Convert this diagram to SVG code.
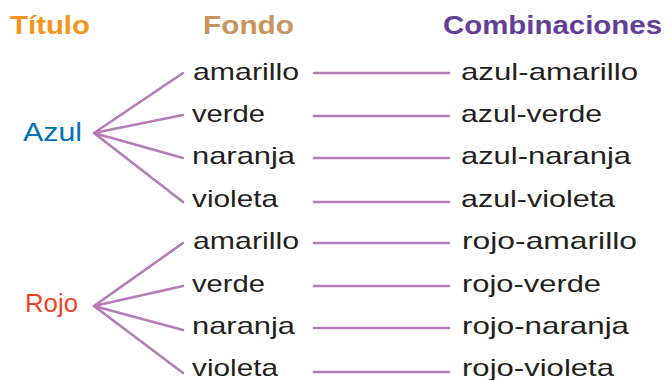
<svg xmlns="http://www.w3.org/2000/svg" width="666" height="380" viewBox="0 0 666 380">
<style>
text{font-family:"Liberation Sans",Arial,sans-serif}
.h{font-weight:bold;font-size:25px}
.t{font-size:24px;fill:#231f20}
.c{stroke:#b67bb9;stroke-width:2.6;fill:none;stroke-linecap:round}
</style>
<rect width="666" height="380" fill="#fff"/>
<g id="headers">
<text class="h" x="10" y="34" fill="#f7941d" textLength="80" lengthAdjust="spacingAndGlyphs">Título</text>
<text class="h" x="203" y="34" fill="#c8955e" textLength="91" lengthAdjust="spacingAndGlyphs">Fondo</text>
<text class="h" x="443" y="34" fill="#633e98" textLength="219" lengthAdjust="spacingAndGlyphs">Combinaciones</text>
</g>
<g id="connectors">
<path class="c" d="M94 133L183 73M94 133L183 115M94 133L183 158M94 133L183 202"/>
<path class="c" d="M94 306L183 243M94 306L183 286M94 306L183 330M94 306L183 373"/>
<path class="c" d="M314 73H449M314 116H449M314 158H449M314 202H449M314 243H449M314 286H449M314 328H449M314 372H449"/>
</g>
<g id="azul"><text x="23" y="141" font-size="25" fill="#0072bc" textLength="59" lengthAdjust="spacingAndGlyphs">Azul</text></g>
<g id="rojo"><text x="25" y="312" font-size="25" fill="#ef4123" textLength="53" lengthAdjust="spacingAndGlyphs">Rojo</text></g>
<g id="fondo-azul">
<text class="t" x="193" y="80" textLength="106" lengthAdjust="spacingAndGlyphs">amarillo</text>
<text class="t" x="192" y="122" textLength="73" lengthAdjust="spacingAndGlyphs">verde</text>
<text class="t" x="192" y="164" textLength="103" lengthAdjust="spacingAndGlyphs">naranja</text>
<text class="t" x="192" y="207" textLength="86" lengthAdjust="spacingAndGlyphs">violeta</text>
</g>
<g id="fondo-rojo">
<text class="t" x="193" y="249" textLength="106" lengthAdjust="spacingAndGlyphs">amarillo</text>
<text class="t" x="192" y="292" textLength="73" lengthAdjust="spacingAndGlyphs">verde</text>
<text class="t" x="192" y="334" textLength="103" lengthAdjust="spacingAndGlyphs">naranja</text>
<text class="t" x="192" y="376" textLength="86" lengthAdjust="spacingAndGlyphs">violeta</text>
</g>
<g id="comb-azul">
<text class="t" x="461" y="80" textLength="177" lengthAdjust="spacingAndGlyphs">azul-amarillo</text>
<text class="t" x="461" y="122" textLength="141" lengthAdjust="spacingAndGlyphs">azul-verde</text>
<text class="t" x="461" y="164" textLength="170" lengthAdjust="spacingAndGlyphs">azul-naranja</text>
<text class="t" x="461" y="207" textLength="154" lengthAdjust="spacingAndGlyphs">azul-violeta</text>
</g>
<g id="comb-rojo">
<text class="t" x="462" y="249" textLength="175" lengthAdjust="spacingAndGlyphs">rojo-amarillo</text>
<text class="t" x="462" y="292" textLength="139" lengthAdjust="spacingAndGlyphs">rojo-verde</text>
<text class="t" x="462" y="334" textLength="167" lengthAdjust="spacingAndGlyphs">rojo-naranja</text>
<text class="t" x="462" y="376" textLength="152" lengthAdjust="spacingAndGlyphs">rojo-violeta</text>
</g>
</svg>
